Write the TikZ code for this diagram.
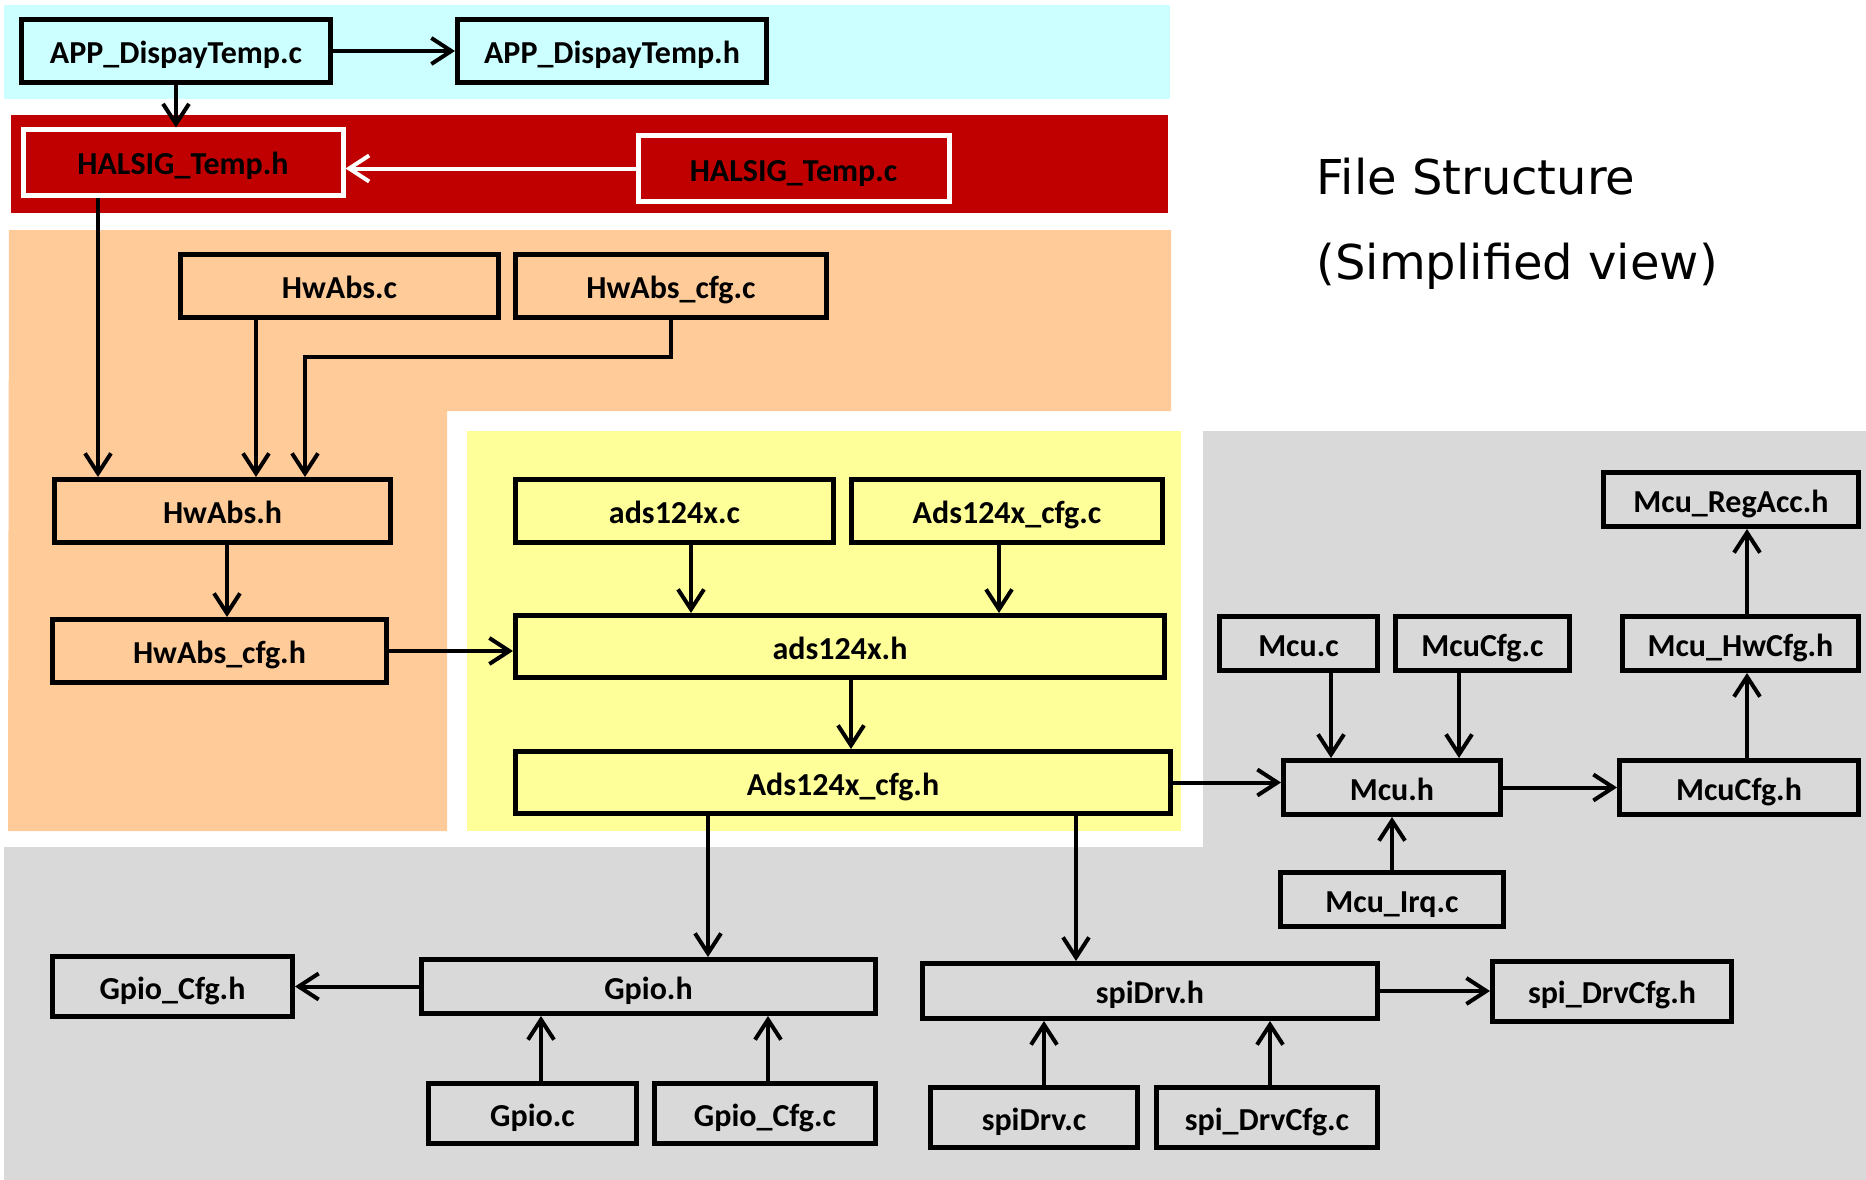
\documentclass[tikz,border=0pt]{standalone}
\usepackage{fontspec}
\setmainfont{Carlito}
\newfontfamily\titlefont{DejaVu Sans}
\usetikzlibrary{positioning, arrows.meta}
\usepackage{xcolor}
\definecolor{appcyan}{RGB}{204,255,255}
\definecolor{halred}{RGB}{192,0,0}
\definecolor{hworange}{RGB}{255,204,153}
\definecolor{drvyellow}{RGB}{255,255,153}
\definecolor{mcalgray}{RGB}{217,217,217}

\begin{document}
\begin{tikzpicture}[x=1pt, y=-1pt,
  file/.style={rectangle, draw=black, line width=5pt, inner sep=0pt,
               minimum height=63pt, text height=25pt, text depth=0pt,
               font=\fontsize{32}{33}\selectfont\bfseries},
  small/.style={minimum height=54pt},
  arrow/.style={->, line width=4pt, >={Straight Barb[length=20pt,width=26pt]}},
  node distance=12pt
]
\useasboundingbox (0,0) rectangle (1866,1180);

% Layer bands
\fill[appcyan] (4,5) rectangle (1170,99);
\fill[halred] (11,115) rectangle (1168,213);
\fill[hworange] (9,230) -- (1171,230) -- (1171,411) -- (447,411) -- (447,831) -- (8,831) -- cycle;
\fill[drvyellow] (467,431) rectangle (1181,831);
\fill[mcalgray] (1203,431) -- (1866,431) -- (1866,1180) -- (4,1180) -- (4,847) -- (1203,847) -- cycle;

% Application
\node[file, minimum width=309pt] (appC) at (176,51) {APP\_DispayTemp.c};
\node[file, minimum width=309pt, right=122pt of appC] (appH) {APP\_DispayTemp.h};

% HAL signal
\node[file, draw=white, minimum width=320pt, minimum height=65pt] (halH) at (183,162.5) {HALSIG\_Temp.h};
\node[file, draw=white, minimum width=311pt, minimum height=65pt] (halC) at (793.5,168.5) {HALSIG\_Temp.c};

% Hardware abstraction
\node[file, minimum width=318pt] (hwC) at (339.5,286) {HwAbs.c};
\node[file, minimum width=311pt, right=of hwC] (hwCfgC) {HwAbs\_cfg.c};
\node[file, minimum width=336pt] (hwH) at (222.5,511) {HwAbs.h};
\node[file, minimum width=334pt] (hwCfgH) at (219.5,651) {HwAbs\_cfg.h};

% Device driver
\node[file, minimum width=318pt] (adsC) at (674.5,511) {ads124x.c};
\node[file, minimum width=311pt, right=13pt of adsC] (adsCfgC) {Ads124x\_cfg.c};
\node[file, minimum width=649pt, minimum height=62pt] (adsH) at (840,646.5) {ads124x.h};
\node[file, minimum width=655pt, minimum height=62pt] (adsCfgH) at (843,782.5) {Ads124x\_cfg.h};

% MCU
\node[file, small, minimum width=158pt] (mcuC) at (1298.5,643.5) {Mcu.c};
\node[file, small, minimum width=174pt, right=13pt of mcuC] (mcuCfgC) {McuCfg.c};
\node[file, small, minimum width=217pt] (mcuH) at (1392,787.5) {Mcu.h};
\node[file, small, minimum width=239pt, right=114pt of mcuH] (mcuCfgH) {McuCfg.h};
\node[file, small, minimum width=223pt, below=53pt of mcuH] (mcuIrqC) {Mcu\_Irq.c};
\node[file, small, minimum width=236pt, above left=85pt and 0pt of mcuCfgH.north east] (mcuHwH) {Mcu\_HwCfg.h};
\node[file, small, minimum width=255pt, above left=85pt and 0pt of mcuHwH.north east] (mcuRegH) {Mcu\_RegAcc.h};

% GPIO and SPI
\node[file, small, minimum width=454pt] (gpioH) at (648.5,986.5) {Gpio.h};
\node[file, minimum width=240pt, minimum height=60pt, left=124pt of gpioH] (gpioCfgH) {Gpio\_Cfg.h};
\node[file, minimum width=208pt, minimum height=60pt] (gpioC) at (532.5,1113.5) {Gpio.c};
\node[file, minimum width=221pt, minimum height=60pt, right=13pt of gpioC] (gpioCfgC) {Gpio\_Cfg.c};
\node[file, minimum width=455pt, minimum height=55pt] (spiH) at (1150,991) {spiDrv.h};
\node[file, minimum width=239pt, minimum height=60pt, right=110pt of spiH] (spiCfgH) {spi\_DrvCfg.h};
\node[file, minimum width=207pt, minimum height=60pt] (spiC) at (1034,1117.5) {spiDrv.c};
\node[file, minimum width=221pt, minimum height=60pt, right=14pt of spiC] (spiCfgC) {spi\_DrvCfg.c};

% Title
\node[anchor=base west, font=\titlefont\fontsize{48}{58}\selectfont] (titleA) at (1313,194) {File Structure};
\node[anchor=base west, font=\titlefont\fontsize{48}{58}\selectfont] (titleB) at (1313,279) {(Simplified view)};

% Arrows: application and HAL signal
\draw[arrow] (appC) -- (appH);
\draw[arrow] (appC.south) -- (appC.south |- halH.north);
\draw[arrow, draw=white] (halC.west) -- (halC.west -| halH.east);
\draw[arrow] ([xshift=-85pt]halH.south) -- ([xshift=-124.5pt]hwH.north);

% Arrows: hardware abstraction
\draw[arrow] ([xshift=-83.5pt]hwC.south) -- ([xshift=33.5pt]hwH.north);
\draw[arrow] (hwCfgC.south) -- ++(0,37) -| ([xshift=82.5pt]hwH.north);
\draw[arrow] ([xshift=4.5pt]hwH.south) -- ([xshift=7.5pt]hwCfgH.north);
\draw[arrow] (hwCfgH.east) -- (hwCfgH.east -| adsH.west);

% Arrows: device driver
\draw[arrow] ([xshift=16.5pt]adsC.south) -- ([xshift=-149pt]adsH.north);
\draw[arrow] ([xshift=-8pt]adsCfgC.south) -- ([xshift=159pt]adsH.north);
\draw[arrow] ([xshift=11pt]adsH.south) -- ([xshift=8pt]adsCfgH.north);
\draw[arrow] ([xshift=-135pt]adsCfgH.south) -- ([xshift=59.5pt]gpioH.north);
\draw[arrow] ([xshift=233pt]adsCfgH.south) -- ([xshift=-74pt]spiH.north);
\draw[arrow] (adsCfgH.east) -- (adsCfgH.east -| mcuH.west);

% Arrows: MCU
\draw[arrow] ([xshift=32.5pt]mcuC.south) -- ([xshift=-61pt]mcuH.north);
\draw[arrow] ([xshift=-23.5pt]mcuCfgC.south) -- ([xshift=67pt]mcuH.north);
\draw[arrow] (mcuIrqC.north) -- (mcuIrqC.north |- mcuH.south);
\draw[arrow] (mcuH) -- (mcuCfgH);
\draw[arrow] ([xshift=8pt]mcuCfgH.north) -- ([xshift=6.5pt]mcuHwH.south);
\draw[arrow] ([xshift=6.5pt]mcuHwH.north) -- ([xshift=16pt]mcuRegH.south);

% Arrows: GPIO and SPI
\draw[arrow] (gpioH) -- (gpioCfgH);
\draw[arrow] ([xshift=8.5pt]gpioC.north) -- ([xshift=-107.5pt]gpioH.south);
\draw[arrow] ([xshift=3pt]gpioCfgC.north) -- ([xshift=119.5pt]gpioH.south);
\draw[arrow] (spiH) -- (spiCfgH);
\draw[arrow] ([xshift=10pt]spiC.north) -- ([xshift=-106pt]spiH.south);
\draw[arrow] ([xshift=3pt]spiCfgC.north) -- ([xshift=120pt]spiH.south);

\end{tikzpicture}
\end{document}
